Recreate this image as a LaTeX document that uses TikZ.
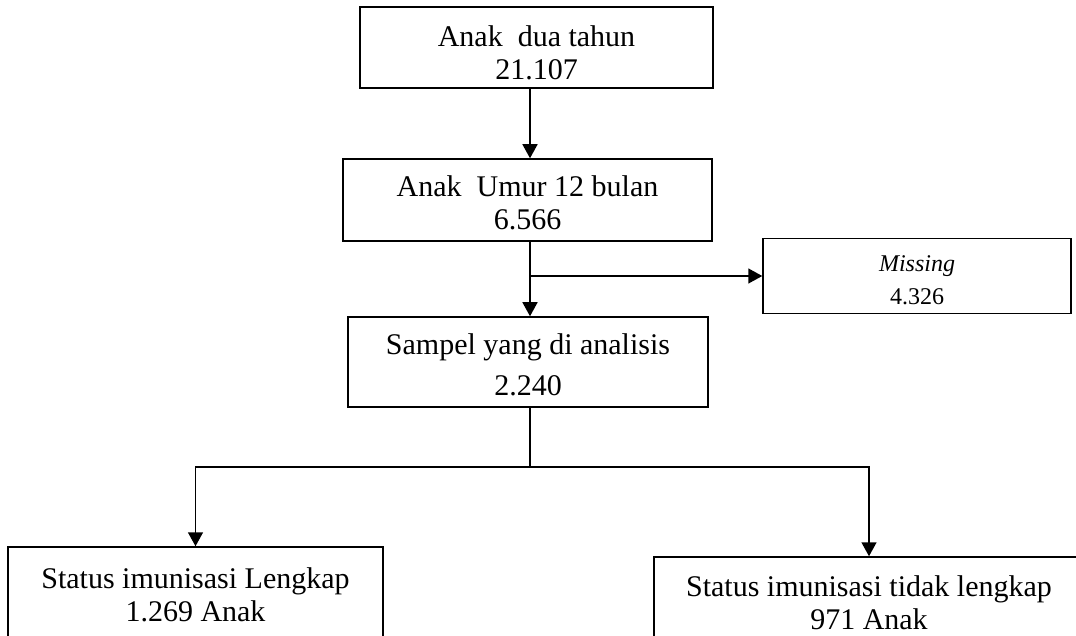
\documentclass[tikz,border=0pt]{standalone}
\usepackage{fontspec}
\setmainfont{Liberation Serif}
\usetikzlibrary{positioning,arrows.meta}
\newcommand{\topgap}[1]{\rule{0pt}{#1}}
\tikzset{
  flowbox/.style={draw=black,line width=0.75pt,align=center,inner sep=0pt,font=\fontsize{15pt}{16.5pt}\selectfont},
  flowsmall/.style={flowbox,font=\fontsize{12pt}{16.5pt}\selectfont},
  flowline/.style={draw=black,line width=0.75pt},
  flowarrow/.style={flowline,-{Triangle[length=7pt,width=7.5pt]}}
}
\begin{document}
\begin{tikzpicture}[x=0.5pt,y=-0.5pt]
  \useasboundingbox (0,0) rectangle (1076,636);
  \clip (0,0) rectangle (1076,636);
  \node[flowbox,minimum width=176.5pt,minimum height=40.5pt] (twoyear) at (536.5,47.5) {\topgap{15.5pt}Anak\ \ dua tahun\\21.107};
  \node[flowbox,minimum width=184.5pt,minimum height=41pt] (twelve) at (527.5,200) {\topgap{13.2pt}Anak\ \ Umur 12 bulan\\6.566};
  \node[flowsmall,minimum width=154pt,minimum height=37.5pt] (missing) at (917,276) {\topgap{12pt}\textit{Missing}\\4.326};
  \node[flowbox,minimum width=180pt,minimum height=45pt,font=\fontsize{15pt}{20.5pt}\selectfont] (sample) at (528,362) {\topgap{13.5pt}Sampel yang di analisis\\2.240};
  \node[flowbox,minimum width=187.5pt,minimum height=48pt] (complete) at (195.5,595) {Status imunisasi Lengkap\\1.269 Anak};
  \node[flowbox,minimum width=215pt,minimum height=46pt] (incomplete) at (869,603) {Status imunisasi tidak lengkap\\971 Anak};
  \coordinate (spine) at (530,0);
  \coordinate (split) at (530,467);
  \draw[flowarrow] (twoyear.south -| spine) -- (twelve.north -| spine);
  \draw[flowarrow] (twelve.south -| spine) -- (sample.north -| spine);
  \draw[flowarrow] (missing.west -| spine) -- (missing.west);
  \draw[flowline] (sample.south -| spine) -- (split);
  \draw[flowarrow] (split) -| (complete.north);
  \draw[flowarrow] (split) -| (incomplete.north);
\end{tikzpicture}
\end{document}
